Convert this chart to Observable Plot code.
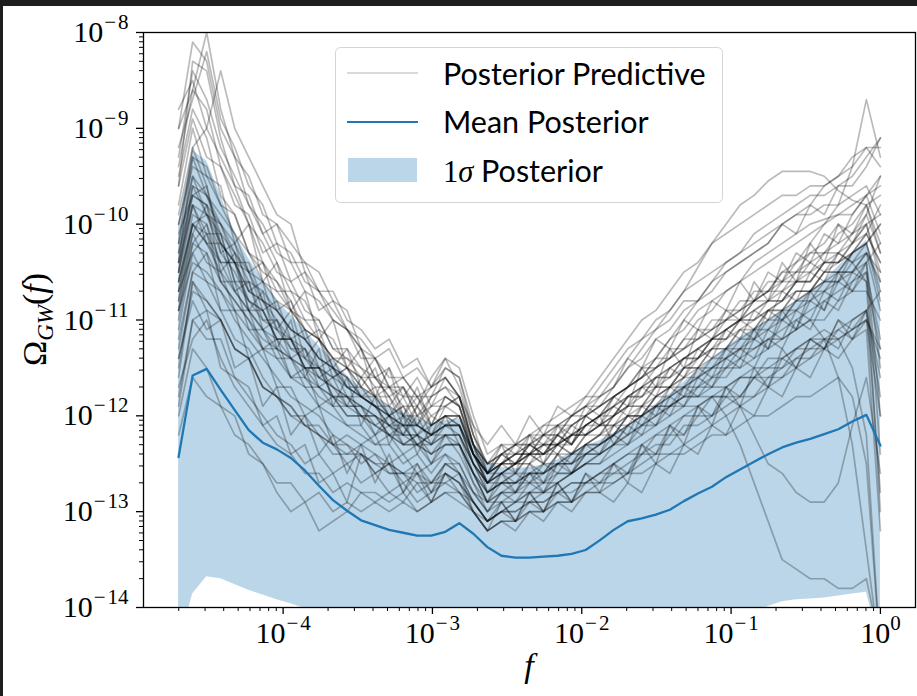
<!DOCTYPE html>
<html><head><meta charset="utf-8">
<script src="https://cdn.jsdelivr.net/npm/d3@7"></script>
<script src="https://cdn.jsdelivr.net/npm/@observablehq/plot@0.6"></script>
<style>
html,body{margin:0;padding:0;background:#fff;}
#wrap{position:relative;width:917px;height:696px;overflow:hidden;background:#fff;}
.bar{position:absolute;background:#1e1e1e;z-index:5;}
#legend{position:absolute;left:335px;top:47px;z-index:4;}
</style></head>
<body>
<div id="wrap">
  <div class="bar" style="left:0;top:0;width:917px;height:6px"></div>
  <div class="bar" style="left:0;top:0;width:3px;height:696px"></div>
  <svg id="legend" width="390" height="158" font-family="Lato, 'Open Sans', sans-serif">
    <rect x="0.5" y="0.5" width="387" height="155" rx="5" fill="#fff" fill-opacity="0.8" stroke="#d4d4d4"/>
    <line x1="12" x2="83" y1="26" y2="26" stroke="#000" stroke-opacity="0.15" stroke-width="2"/>
    <line x1="12" x2="83" y1="75" y2="75" stroke="#1f77b4" stroke-width="2.2"/>
    <rect x="13" y="111" width="69" height="24" fill="#1f77b4" fill-opacity="0.3"/>
    <text x="108" y="38" font-size="30.5" fill="#000">Posterior Predictive</text>
    <text x="108" y="86" font-size="30.5" fill="#000">Mean Posterior</text>
    <text x="108" y="135" font-size="30.5" fill="#000"><tspan font-family="'Liberation Serif', serif">1</tspan><tspan font-family="'Liberation Serif', serif" font-style="italic">σ</tspan> Posterior</text>
  </svg>
</div>
<script>
// frequency grid (log10 f)
const logF = [-4.700,-4.606,-4.512,-4.418,-4.324,-4.230,-4.136,-4.042,-3.948,-3.854,-3.760,-3.666,-3.572,-3.478,-3.384,-3.290,-3.196,-3.102,-3.008,-2.914,-2.820,-2.726,-2.632,-2.538,-2.444,-2.350,-2.256,-2.162,-2.068,-1.974,-1.880,-1.786,-1.692,-1.598,-1.504,-1.410,-1.316,-1.222,-1.128,-1.034,-0.940,-0.846,-0.752,-0.658,-0.564,-0.470,-0.376,-0.282,-0.188,-0.094,0];
// mean posterior (log10 Omega)
const meanLog = [-12.43,-11.58,-11.51,-11.73,-11.94,-12.15,-12.28,-12.35,-12.44,-12.57,-12.73,-12.88,-12.99,-13.09,-13.14,-13.19,-13.22,-13.25,-13.25,-13.21,-13.12,-13.23,-13.37,-13.46,-13.48,-13.48,-13.47,-13.46,-13.44,-13.40,-13.30,-13.19,-13.10,-13.07,-13.03,-12.98,-12.89,-12.81,-12.74,-12.64,-12.56,-12.48,-12.40,-12.33,-12.28,-12.24,-12.19,-12.14,-12.06,-11.99,-12.31];
// 1 sigma band
const bandHiLog = [-10.01,-9.23,-9.34,-9.70,-10.10,-10.36,-10.59,-10.80,-10.95,-11.11,-11.27,-11.42,-11.58,-11.71,-11.82,-11.90,-11.97,-12.03,-12.09,-12.05,-12.03,-12.31,-12.49,-12.54,-12.55,-12.54,-12.51,-12.46,-12.38,-12.32,-12.26,-12.18,-12.11,-12.00,-11.88,-11.77,-11.65,-11.53,-11.40,-11.29,-11.18,-11.09,-11.00,-10.90,-10.81,-10.71,-10.59,-10.44,-10.31,-10.17,-10.59];
const bandLoLog = [-14.4,-13.86,-13.68,-13.70,-13.76,-13.82,-13.87,-13.92,-13.96,-14.01,-14.06,-14.1,-14.2,-14.2,-14.2,-14.2,-14.2,-14.2,-14.2,-14.2,-14.2,-14.2,-14.2,-14.2,-14.2,-14.2,-14.2,-14.2,-14.2,-14.2,-14.2,-14.2,-14.2,-14.2,-14.2,-14.2,-14.2,-14.2,-14.2,-14.2,-14.2,-14.05,-13.99,-13.94,-13.92,-13.91,-13.90,-13.88,-13.86,-13.84,-14.4];
// posterior predictive draws (log10 Omega)
const s01 = [-9.6,-8.9,-9.3,-9.4,-9.8,-9.9,-10.3,-10.2,-10.6,-10.5,-10.9,-10.8,-11.1, -11.3,-11.6,-11.5,-11.8,-11.6,-11.9,-11.6,-11.8,-12.1,-12.3,-12.1,-12.3,-12.0,-12.2,-11.9,-12.0,-11.8,-11.8, -11.7,-11.4,-11.5,-11.2,-11.3,-11.0,-11.1,-10.8,-10.9,-10.6,-10.8,-10.5,-10.6,-10.3,-10.4,-10.1,-10.2,-9.9,-9.7, -10.1];
const s02 = [-11.3,-10.5,-10.3,-10.9,-10.9,-11.4,-11.3,-11.7,-11.7,-12.0,-11.9,-12.3,-12.2, -12.3,-12.2,-12.5,-12.4,-12.6,-12.5,-12.4,-12.6,-12.9,-13.1,-12.9,-13.1,-12.8,-13.0,-12.7,-12.9,-12.6,-12.7, -12.5,-12.6,-12.3,-12.4,-12.1,-12.2,-11.9,-12.0,-11.7,-11.8,-11.6,-11.7,-11.4,-11.5,-11.2,-11.3,-11.0,-11.1,-10.9, -11.6];
const s03 = [-10.2,-9.2,-9.6,-10.2,-10.4,-10.5,-10.9,-10.8,-11.2,-11.1,-11.5,-11.4,-11.7, -11.7,-11.9,-11.9,-12.2,-12.0,-12.3,-12.0,-12.0,-12.4,-12.7,-12.6,-12.6,-12.4,-12.5,-12.3,-12.4,-12.2,-12.1, -12.1,-11.9,-11.9,-11.7,-11.7,-11.5,-11.5,-11.3,-11.3,-11.1,-11.2,-10.9,-11.0,-10.8,-10.7,-10.6,-10.6,-10.3,-10.1, -10.4];
const s04 = [-11.0,-10.2,-10.0,-10.6,-10.6,-11.1,-11.1,-11.4,-11.4,-11.7,-11.7,-11.9,-11.9, -11.6,-11.8,-11.7,-12.0,-11.8,-12.1,-11.8,-11.9,-12.3,-12.5,-12.5,-12.3,-12.4,-12.2,-12.3,-12.1,-12.2,-12.0, -12.3,-12.1,-12.2,-11.9,-12.0,-11.7,-11.8,-11.6,-11.6,-11.4,-11.5,-11.2,-11.3,-11.0,-11.1,-10.8,-10.9,-10.6,-10.5, -11.2];
const s05 = [-9.0,-8.1,-8.3,-9.0,-9.3,-9.5,-9.9,-10.0,-10.2,-10.4,-10.5,-10.8,-10.9, -11.3,-11.6,-11.8,-12.1,-11.9,-12.2,-11.9,-11.8,-12.3,-12.6,-12.4,-12.5,-12.3,-12.4,-12.2,-12.3,-12.1,-12.0, -11.9,-11.8,-11.7,-11.6,-11.5,-11.4,-11.3,-11.2,-11.1,-11.0,-11.0,-10.9,-10.8,-10.6,-10.6,-10.4,-10.3,-10.2,-10.0, -9.9];
const s06 = [-9.4,-8.6,-8.0,-8.8,-9.3,-9.8,-10.1,-10.4,-10.7,-10.8,-11.1,-11.2,-11.5, -11.6,-11.8,-11.8,-12.0,-12.1,-12.2,-12.0,-12.1,-12.5,-12.8,-12.7,-12.6,-12.7,-12.5,-12.6,-12.4,-12.4,-12.3, -12.2,-12.0,-12.1,-11.9,-11.9,-11.7,-11.7,-11.5,-11.5,-11.3,-11.4,-11.1,-11.2,-10.9,-11.0,-10.7,-10.8,-10.5,-10.3, -10.9];
const s07 = [-11.8,-11.0,-11.2,-11.2,-11.6,-11.7,-12.1,-12.0,-12.4,-12.3,-12.7,-12.6,-12.9, -12.4,-12.6,-12.5,-12.8,-12.6,-12.9,-12.6,-12.7,-13.0,-13.2,-13.1,-13.2,-13.0,-13.1,-12.9,-13.0,-12.8,-12.8, -12.9,-12.7,-12.8,-12.5,-12.6,-12.3,-12.4,-12.1,-12.2,-11.9,-12.0,-11.7,-11.8,-11.5,-11.6,-11.3,-11.4,-11.2,-11.1, -13.2];
const s08 = [-10.5,-9.6,-9.9,-10.1,-10.6,-10.6,-11.0,-11.0,-11.3,-11.3,-11.6,-11.5,-11.8, -11.8,-11.8,-12.0,-11.9,-12.1,-11.8,-11.5,-11.6,-12.2,-12.6,-12.5,-12.5,-12.3,-12.4,-12.2,-12.3,-12.1,-12.0, -12.0,-11.8,-11.8,-11.6,-11.6,-11.4,-11.4,-11.2,-11.2,-11.0,-11.1,-10.9,-10.9,-10.7,-10.7,-10.5,-10.5,-10.3,-10.1, -9.8];
const s09 = [-10.0,-9.4,-9.5,-9.8,-10.1,-10.3,-10.6,-10.7,-10.9,-11.1,-11.2,-11.4,-11.5, -11.7,-11.8,-11.9,-12.0,-12.0,-12.1,-12.0,-12.0,-12.3,-12.5,-12.4,-12.4,-12.3,-12.3,-12.2,-12.1,-12.0,-11.9, -11.7,-11.5,-11.3,-11.1,-10.9,-10.7,-10.45,-10.2,-10.0,-9.8,-9.7,-9.55,-9.45,-9.45,-9.45,-9.5,-9.65,-9.75,-9.8, -10.2];
const s10 = [-10.3,-9.7,-9.8,-10.0,-10.3,-10.6,-10.7,-10.9,-11.1,-11.2,-11.4,-11.5,-11.7, -11.8,-11.9,-12.0,-12.1,-12.1,-12.2,-12.1,-12.1,-12.4,-12.6,-12.5,-12.5,-12.4,-12.4,-12.3,-12.2,-12.1,-12.0, -11.9,-11.7,-11.6,-11.4,-11.2,-11.0,-10.8,-10.6,-10.4,-10.3,-10.1,-10.0,-9.9,-9.8,-9.7,-9.7,-9.6,-9.6,-9.4, -9.1];
const s11 = [-10.8,-10.0,-10.2,-10.4,-10.7,-10.9,-11.1,-11.2,-11.4,-11.5,-11.7,-11.8,-11.9, -12.0,-12.1,-12.2,-12.3,-12.3,-12.4,-12.3,-12.3,-12.6,-12.8,-12.7,-12.7,-12.6,-12.6,-12.5,-12.4,-12.3,-12.2, -12.0,-11.8,-11.7,-11.5,-11.4,-11.2,-11.0,-10.9,-10.7,-10.6,-10.4,-10.3,-10.2,-10.1,-10.0,-9.95,-9.9,-9.8,-9.7, -9.6];
const s12 = [-10.9,-10.1,-10.4,-10.5,-10.9,-10.9,-11.3,-11.3,-11.6,-11.5,-11.9,-11.8,-12.0, -12.0,-12.2,-12.1,-12.3,-12.2,-12.4,-12.2,-12.3,-12.6,-12.9,-12.7,-12.8,-12.6,-12.7,-12.5,-12.5,-12.3,-12.3, -12.2,-12.0,-12.0,-11.8,-11.7,-11.6,-11.4,-11.3,-11.1,-11.0,-10.8,-10.7,-10.5,-10.4,-10.2,-10.0,-9.8,-9.4,-8.7, -9.3];
const s13 = [-10.7,-10.3,-10.1,-10.6,-10.8,-11.0,-11.3,-11.2,-11.6,-11.6,-11.8,-11.9,-12.1, -12.1,-12.3,-12.2,-12.4,-12.3,-12.5,-12.3,-12.3,-12.7,-12.9,-12.8,-12.8,-12.7,-12.7,-12.6,-12.6,-12.4,-12.4, -12.3,-12.2,-12.1,-12.0,-11.9,-11.8,-11.8,-11.8,-12.0,-12.3,-12.7,-13.1,-13.5,-13.6,-13.7,-13.7,-13.8,-13.8,-13.7, -14.4];
const s14 = [-11.4,-10.7,-10.8,-11.0,-11.3,-11.4,-11.7,-11.8,-12.0,-12.0,-12.2,-12.3,-12.4, -12.3,-12.4,-12.5,-12.6,-12.5,-12.7,-12.5,-12.6,-12.8,-13.0,-12.9,-12.9,-12.8,-12.8,-12.7,-12.6,-12.5,-12.5, -12.4,-12.3,-12.2,-12.1,-12.0,-11.9,-11.9,-11.8,-11.8,-11.9,-12.2,-12.5,-12.6,-12.8,-12.9,-12.9,-12.7,-12.1,-11.6, -12.6];
const s15 = [-12.0,-11.3,-11.5,-11.9,-12.0,-12.4,-12.5,-12.8,-13.0,-12.9,-13.2,-13.1,-13.0, -12.8,-12.9,-12.8,-12.9,-12.7,-12.9,-12.6,-12.7,-12.9,-13.1,-13.0,-13.0,-12.9,-12.9,-12.8,-12.8,-12.7,-12.6, -12.6,-12.5,-12.4,-12.3,-12.3,-12.1,-12.1,-12.0,-11.9,-11.8,-11.8,-11.6,-11.6,-11.4,-11.4,-11.2,-11.3,-11.0,-10.9, -11.8];
const s16 = [-8.8,-8.5,-9.0,-9.3,-9.6,-9.7,-10.1,-10.0,-10.4,-10.4,-10.7,-10.7,-11.0, -11.1,-11.3,-11.2,-11.5,-11.4,-11.7,-11.6,-11.8,-12.2,-12.5,-12.4,-12.3,-12.3,-12.2,-12.2,-12.0,-12.0,-11.9, -11.8,-11.7,-11.5,-11.5,-11.3,-11.3,-11.1,-11.1,-10.9,-10.9,-10.7,-10.7,-10.5,-10.5,-10.3,-10.3,-10.1,-10.0,-9.8, -10.3];
const s17 = [-10.4,-9.8,-10.2,-10.2,-10.7,-10.6,-11.1,-11.0,-11.4,-11.3,-11.7,-11.6,-11.9, -11.9,-12.2,-12.0,-12.3,-12.2,-12.5,-12.2,-12.4,-12.7,-13.0,-12.8,-12.8,-12.6,-12.8,-12.5,-12.6,-12.4,-12.4, -12.2,-12.3,-12.0,-12.1,-11.8,-11.9,-11.6,-11.7,-11.4,-11.5,-11.2,-11.3,-11.0,-11.1,-10.8,-10.9,-10.6,-10.7,-10.5, -12.4];
const s18 = [-10.6,-10.0,-10.1,-10.4,-10.4,-10.8,-10.9,-11.2,-11.2,-11.5,-11.5,-11.8,-11.8, -12.0,-12.0,-12.2,-12.1,-12.3,-12.2,-12.1,-12.2,-12.5,-12.7,-12.6,-12.5,-12.4,-12.3,-12.3,-12.1,-12.0,-11.8, -11.6,-11.4,-11.2,-11.1,-11.0,-10.8,-10.8,-10.6,-10.5,-10.4,-10.3,-10.2,-10.0,-10.1,-9.8,-9.9,-9.6,-9.5,-9.3, -9.1];
const s19 = [-11.6,-10.6,-10.9,-11.0,-11.3,-11.4,-11.7,-11.8,-11.9,-12.1,-12.1,-12.3,-12.3, -12.5,-12.4,-12.6,-12.6,-12.8,-12.7,-12.7,-12.6,-12.9,-13.1,-13.0,-13.0,-12.9,-12.9,-12.8,-12.7,-12.7,-12.6, -12.5,-12.4,-12.4,-12.2,-12.2,-12.0,-12.0,-11.8,-11.8,-11.6,-11.6,-11.4,-11.4,-11.3,-11.2,-11.1,-11.2,-11.5,-12.2, -14.5];
const s20 = [-10.3,-9.5,-9.7,-10.0,-10.2,-10.5,-10.6,-10.8,-10.9,-11.1,-11.2,-11.4,-11.4, -11.6,-11.6,-11.8,-11.7,-11.9,-11.6,-11.4,-11.7,-12.2,-12.5,-12.4,-12.3,-12.3,-12.1,-12.1,-12.0,-11.9,-11.9, -11.8,-11.7,-11.6,-11.5,-11.4,-11.3,-11.2,-11.1,-11.0,-10.9,-10.8,-10.7,-10.7,-10.5,-10.5,-10.3,-10.3,-10.1,-9.9, -9.5];
const s21 = [-9.6,-8.3,-8.4,-9.1,-9.6,-10.0,-10.4,-10.6,-10.8,-11.1,-11.2,-11.5,-11.6, -11.8,-11.9,-12.1,-12.1,-12.3,-12.2,-12.2,-12.2,-12.6,-12.8,-12.7,-12.7,-12.6,-12.6,-12.4,-12.5,-12.3,-12.3, -12.1,-12.1,-11.9,-11.9,-11.7,-11.7,-11.5,-11.5,-11.3,-11.3,-11.1,-11.1,-10.9,-10.9,-10.7,-10.7,-10.5,-10.5,-10.3, -10.6];
const s22 = [-11.2,-10.5,-10.6,-10.9,-11.2,-11.3,-11.6,-11.8,-11.9,-12.1,-12.2,-12.3,-12.5, -12.4,-12.6,-12.5,-12.7,-12.6,-12.8,-12.7,-12.8,-12.9,-13.1,-13.0,-13.1,-12.9,-13.0,-12.8,-12.9,-12.7,-12.7, -12.6,-12.6,-12.4,-12.4,-12.2,-12.2,-12.0,-12.0,-11.8,-11.8,-11.6,-11.6,-11.5,-11.4,-11.3,-11.3,-11.1,-11.2,-11.0, -11.4];
const s23 = [-10.4,-9.3,-9.4,-9.8,-9.9,-10.3,-10.4,-10.7,-10.7,-11.0,-11.0,-11.3,-11.3, -11.5,-11.6,-11.7,-11.8,-11.8,-12.0,-11.9,-11.8,-12.3,-12.7,-12.5,-12.5,-12.4,-12.4,-12.3,-12.3,-12.1,-12.1, -12.0,-11.9,-11.8,-11.7,-11.6,-11.5,-11.4,-11.3,-11.2,-11.1,-11.0,-10.9,-10.8,-10.7,-10.7,-10.5,-10.4,-10.3,-10.2, -10.0];
const s24 = [-10.7,-9.9,-10.0,-10.4,-10.4,-10.9,-10.9,-11.2,-11.2,-11.5,-11.5,-11.8,-11.8, -12.0,-12.0,-12.2,-12.2,-12.3,-12.3,-12.1,-12.1,-12.5,-12.7,-12.7,-12.6,-12.6,-12.5,-12.5,-12.4,-12.3,-12.2, -12.1,-12.0,-11.9,-11.8,-11.7,-11.6,-11.5,-11.4,-11.3,-11.2,-11.1,-11.0,-10.9,-10.8,-10.7,-10.6,-10.5,-10.5,-10.6, -13.0];
const s25 = [-10.1,-9.7,-9.6,-10.3,-10.2,-10.7,-10.6,-11.1,-10.9,-11.4,-11.2,-11.6,-11.5, -11.8,-11.7,-12.0,-11.8,-12.1,-11.9,-11.8,-11.9,-12.4,-12.6,-12.4,-12.5,-12.3,-12.4,-12.2,-12.3,-12.0,-12.1, -11.9,-12.0,-11.7,-11.8,-11.5,-11.6,-11.3,-11.4,-11.1,-11.2,-10.9,-11.0,-10.7,-10.8,-10.5,-10.6,-10.3,-10.4,-10.2, -10.7];
const s26 = [-11.5,-10.6,-10.8,-11.0,-11.3,-11.4,-11.7,-11.8,-12.0,-12.1,-12.2,-12.4,-12.4, -12.4,-12.5,-12.5,-12.6,-12.6,-12.7,-12.5,-12.5,-12.8,-12.9,-12.9,-12.8,-12.8,-12.7,-12.7,-12.6,-12.5,-12.5, -12.3,-12.3,-12.1,-12.1,-11.9,-11.9,-11.7,-11.7,-11.5,-11.5,-11.4,-11.3,-11.2,-11.1,-11.0,-11.0,-10.8,-10.7,-10.7, -11.0];
const s27 = [-9.0,-8.6,-8.8,-9.4,-9.7,-10.0,-10.2,-10.5,-10.6,-10.9,-11.0,-11.3,-11.4, -11.5,-11.7,-11.7,-11.9,-11.9,-12.1,-12.0,-12.0,-12.4,-12.7,-12.6,-12.5,-12.5,-12.4,-12.4,-12.2,-12.2,-12.1, -12.0,-11.8,-11.8,-11.6,-11.6,-11.4,-11.4,-11.2,-11.2,-11.0,-11.0,-10.8,-10.8,-10.6,-10.6,-10.4,-10.4,-10.2,-10.0, -10.5];
const s28 = [-10.9,-10.2,-10.3,-10.6,-10.8,-11.0,-11.2,-11.3,-11.4,-11.5,-11.5,-11.6,-11.5, -11.6,-11.4,-11.7,-11.6,-11.8,-11.7,-11.5,-11.6,-12.1,-12.6,-12.5,-12.4,-12.4,-12.3,-12.3,-12.2,-12.2,-12.1, -12.1,-12.0,-12.0,-11.9,-11.9,-11.8,-11.8,-11.7,-11.7,-11.6,-11.6,-11.5,-11.5,-11.3,-11.3,-11.2,-11.2,-11.1,-11.0, -12.0];
const s29 = [-12.2,-11.6,-11.8,-11.9,-12.2,-12.3,-12.5,-12.7,-12.7,-12.9,-12.8,-13.0,-12.9, -13.0,-12.9,-13.0,-12.9,-13.0,-12.9,-12.8,-12.9,-13.0,-13.2,-13.1,-13.1,-13.0,-13.0,-12.9,-12.9,-12.8,-12.8, -12.7,-12.6,-12.6,-12.5,-12.4,-12.4,-12.3,-12.2,-12.2,-12.1,-12.0,-12.0,-11.9,-11.8,-11.8,-11.7,-11.6,-11.8,-12.5, -14.5];
const s30 = [-10.5,-9.8,-9.9,-10.2,-10.4,-10.7,-10.8,-11.0,-11.2,-11.3,-11.5,-11.6,-11.7, -11.8,-11.9,-12.0,-12.1,-12.1,-12.2,-12.1,-12.1,-12.4,-12.6,-12.5,-12.4,-12.3,-12.2,-12.1,-12.0,-11.9,-11.7, -11.5,-11.3,-11.2,-11.0,-10.9,-10.7,-10.6,-10.5,-10.4,-10.3,-10.2,-10.1,-10.0,-9.9,-9.9,-9.8,-9.8,-9.7,-9.6, -9.9];
const s31 = [-10.6,-10.0,-9.9,-10.3,-10.5,-10.8,-11.0,-11.1,-11.3,-11.4,-11.6,-11.7,-11.8, -11.9,-12.0,-12.1,-12.2,-12.2,-12.3,-12.2,-12.2,-12.5,-12.8,-12.7,-12.7,-12.6,-12.6,-12.5,-12.5,-12.4,-12.3, -12.2,-12.1,-12.0,-11.9,-11.8,-11.7,-11.6,-11.5,-11.4,-11.3,-11.3,-11.2,-11.1,-11.0,-10.9,-10.8,-10.7,-10.6,-10.4, -12.0];
const s32 = [-9.9,-9.2,-9.0,-8.4,-9.0,-9.3,-9.6,-9.9,-10.0,-10.5,-10.7,-10.9,-11.1, -11.3,-11.4,-11.6,-11.6,-11.8,-11.8,-11.7,-11.9,-12.3,-12.6,-12.5,-12.4,-12.4,-12.3,-12.3,-12.2,-12.1,-12.0, -11.9,-11.8,-11.7,-11.6,-11.5,-11.4,-11.3,-11.2,-11.1,-11.0,-10.9,-10.8,-10.8,-10.6,-10.6,-10.4,-10.4,-10.2,-10.1, -10.4];
const s33 = [-9.8,-9.0,-9.5,-9.6,-10.2,-10.0,-10.6,-10.4,-10.9,-10.7,-11.2,-11.0,-11.5, -11.3,-11.8,-11.5,-12.0,-11.7,-12.1,-11.8,-11.9,-12.4,-12.6,-12.3,-12.6,-12.2,-12.5,-12.1,-12.3,-12.0,-12.1, -11.8,-11.9,-11.5,-11.7,-11.3,-11.5,-11.1,-11.2,-10.9,-11.0,-10.6,-10.8,-10.4,-10.6,-10.2,-10.4,-10.0,-10.2,-9.9, -10.3];
const s34 = [-10.8,-10.1,-9.8,-10.5,-10.3,-10.9,-10.7,-11.3,-11.0,-11.6,-11.3,-11.9,-11.6, -12.1,-11.8,-12.3,-12.0,-12.4,-12.1,-12.0,-12.3,-12.6,-12.9,-12.6,-12.8,-12.5,-12.7,-12.4,-12.6,-12.3,-12.4, -12.1,-12.2,-11.9,-12.0,-11.7,-11.8,-11.5,-11.6,-11.3,-11.4,-11.1,-11.3,-10.9,-11.1,-10.7,-10.9,-10.5,-10.7,-10.4, -11.5];
const s35 = [-9.2,-8.7,-8.2,-8.9,-9.2,-9.6,-9.8,-10.2,-10.3,-10.6,-10.7,-11.0,-11.1, -11.4,-11.4,-11.7,-11.7,-12.0,-11.9,-11.9,-12.0,-12.4,-12.7,-12.5,-12.6,-12.4,-12.5,-12.3,-12.4,-12.2,-12.2, -12.0,-11.9,-11.9,-11.7,-11.7,-11.5,-11.5,-11.3,-11.3,-11.1,-11.1,-10.9,-10.9,-10.7,-10.7,-10.5,-10.5,-10.3,-10.2, -10.0];
const s36 = [-11.4,-10.8,-11.1,-11.0,-11.5,-11.4,-11.9,-11.7,-12.2,-12.0,-12.4,-12.2,-12.6, -12.3,-12.7,-12.4,-12.8,-12.5,-12.8,-12.5,-12.6,-13.0,-13.2,-12.9,-13.1,-12.8,-13.0,-12.7,-12.9,-12.6,-12.8, -12.5,-12.7,-12.3,-12.5,-12.1,-12.3,-11.9,-12.1,-11.7,-11.9,-11.5,-11.7,-11.3,-11.5,-11.2,-11.3,-11.0,-11.2,-10.9, -10.7];
const s37 = [-10.2,-9.5,-9.9,-10.0,-10.4,-10.4,-10.8,-10.9,-11.1,-11.2,-11.4,-11.5,-11.7, -11.8,-11.9,-12.1,-12.0,-12.2,-12.1,-12.0,-12.1,-12.5,-12.7,-12.5,-12.4,-12.4,-12.2,-12.2,-12.0,-11.9,-11.8, -11.7,-11.5,-11.4,-11.2,-11.1,-10.9,-10.8,-10.7,-10.5,-10.4,-10.3,-10.2,-10.0,-9.9,-9.8,-9.6,-9.5,-9.3,-9.2, -9.4];
const s38 = [-9.5,-8.8,-9.1,-9.7,-9.9,-10.3,-10.5,-10.6,-10.9,-11.0,-11.2,-11.4,-11.5, -11.7,-11.8,-12.0,-11.9,-12.2,-12.0,-12.1,-12.0,-12.4,-12.6,-12.6,-12.5,-12.5,-12.3,-12.4,-12.2,-12.2,-12.1, -12.0,-11.9,-11.7,-11.7,-11.5,-11.4,-11.3,-11.2,-11.0,-11.0,-10.8,-10.8,-10.6,-10.6,-10.4,-10.5,-10.3,-10.4,-10.6, -11.3];
const s39 = [-11.9,-11.0,-10.9,-11.5,-11.6,-11.8,-12.0,-12.2,-12.3,-12.5,-12.4,-12.6,-12.5, -12.7,-12.6,-12.8,-12.7,-12.9,-12.8,-12.6,-12.8,-13.0,-13.1,-13.0,-12.9,-12.9,-12.8,-12.8,-12.7,-12.7,-12.6, -12.5,-12.4,-12.3,-12.2,-12.1,-12.0,-11.9,-11.8,-11.7,-11.6,-11.5,-11.5,-11.4,-11.3,-11.2,-11.2,-11.1,-11.0,-10.9, -12.8];
const s40 = [-10.6,-9.8,-10.1,-10.1,-10.6,-10.8,-10.9,-11.2,-11.2,-11.5,-11.6,-11.7,-11.9, -11.9,-12.1,-12.0,-12.2,-11.9,-11.7,-11.6,-11.8,-12.3,-12.8,-12.6,-12.7,-12.5,-12.6,-12.4,-12.4,-12.3,-12.2, -12.2,-12.0,-12.0,-11.8,-11.8,-11.6,-11.6,-11.4,-11.4,-11.2,-11.2,-11.0,-11.0,-10.8,-10.8,-10.6,-10.6,-10.4,-10.3, -10.5];
const s41 = [-10.4,-9.6,-9.7,-10.1,-10.3,-10.5,-10.8,-10.9,-11.1,-11.2,-11.4,-11.5,-11.6, -11.8,-11.9,-12.0,-12.1,-12.1,-12.2,-12.1,-12.1,-12.4,-12.6,-12.4,-12.3,-12.2,-12.1,-12.0,-11.9,-11.8,-11.6, -11.4,-11.2,-11.0,-10.9,-10.7,-10.5,-10.4,-10.2,-10.1,-10.0,-9.9,-9.8,-9.7,-9.7,-9.6,-9.6,-9.5,-9.4,-9.2, -9.2];
const s42 = [-10.9,-10.4,-10.5,-10.7,-10.9,-11.1,-11.3,-11.4,-11.6,-11.7,-11.9,-12.0,-12.1, -12.2,-12.3,-12.3,-12.5,-12.4,-12.6,-12.4,-12.5,-12.8,-13.0,-12.8,-12.9,-12.7,-12.8,-12.6,-12.6,-12.5,-12.4, -12.3,-12.2,-12.1,-12.0,-11.9,-11.8,-11.7,-11.6,-11.5,-11.4,-11.3,-11.2,-11.2,-11.1,-11.0,-11.2,-11.6,-12.3,-13.4, -14.5];
const s43 = [-10.0,-9.3,-9.7,-9.9,-10.1,-10.5,-10.4,-10.9,-10.8,-11.2,-11.1,-11.5,-11.3, -11.7,-11.5,-11.9,-11.7,-12.0,-11.8,-11.7,-11.8,-12.3,-12.5,-12.3,-12.4,-12.2,-12.3,-12.1,-12.2,-11.9,-12.0, -11.8,-11.7,-11.6,-11.4,-11.4,-11.2,-11.2,-11.0,-11.0,-10.8,-10.8,-10.6,-10.6,-10.4,-10.3,-10.2,-10.0,-10.1,-9.8, -9.7];
const s44 = [-11.1,-10.3,-10.6,-10.7,-11.0,-11.2,-11.4,-11.6,-11.8,-11.9,-12.0,-12.2,-12.3, -12.4,-12.5,-12.6,-12.6,-12.7,-12.7,-12.6,-12.7,-12.9,-13.1,-13.0,-12.9,-12.8,-12.8,-12.7,-12.6,-12.5,-12.4, -12.3,-12.1,-12.0,-11.8,-11.7,-11.5,-11.4,-11.2,-11.1,-11.0,-10.9,-10.8,-10.7,-10.6,-10.5,-10.4,-10.4,-10.3,-10.2, -10.8];
const s45 = [-10.7,-10.0,-10.2,-10.5,-10.7,-10.9,-11.1,-11.3,-11.4,-11.6,-11.7,-11.8,-12.0, -12.0,-12.1,-12.2,-12.3,-12.3,-12.4,-12.3,-12.3,-12.6,-12.9,-12.8,-12.7,-12.7,-12.6,-12.5,-12.5,-12.4,-12.3, -12.2,-12.1,-12.0,-11.9,-11.8,-11.7,-11.6,-11.5,-11.4,-11.3,-11.2,-11.1,-11.0,-10.9,-10.8,-10.7,-10.6,-10.5,-10.4, -10.2];
const s46 = [-9.3,-8.4,-8.7,-9.2,-9.5,-9.8,-10.0,-10.3,-10.4,-10.7,-10.8,-11.0,-11.1, -11.2,-11.4,-11.3,-11.6,-11.5,-11.7,-11.4,-11.5,-12.0,-12.4,-12.3,-12.3,-12.2,-12.2,-12.1,-12.1,-12.0,-11.9, -11.8,-11.7,-11.6,-11.5,-11.4,-11.3,-11.2,-11.1,-11.0,-10.9,-10.8,-10.7,-10.6,-10.5,-10.4,-10.3,-10.2,-10.1,-10.0, -10.6];
const s47 = [-11.7,-11.2,-11.0,-11.4,-11.7,-11.9,-12.1,-12.3,-12.4,-12.6,-12.6,-12.8,-12.7, -12.8,-12.8,-12.9,-12.8,-13.0,-12.9,-12.8,-12.8,-13.0,-13.2,-13.1,-13.1,-13.0,-13.0,-12.9,-12.9,-12.8,-12.7, -12.7,-12.6,-12.5,-12.4,-12.4,-12.3,-12.2,-12.1,-12.0,-11.9,-11.8,-11.7,-11.6,-11.5,-11.4,-11.3,-11.2,-11.1,-11.0, -11.3];
const s48 = [-10.5,-9.7,-9.8,-10.2,-10.4,-10.7,-10.8,-11.1,-11.2,-11.4,-11.5,-11.7,-11.8, -11.9,-12.0,-12.1,-12.2,-12.2,-12.3,-12.2,-12.2,-12.5,-12.7,-12.6,-12.5,-12.4,-12.4,-12.3,-12.2,-12.1,-12.0, -11.8,-11.7,-11.5,-11.4,-11.2,-11.1,-10.9,-10.8,-10.7,-10.6,-10.5,-10.4,-10.3,-10.2,-10.1,-10.0,-9.9,-9.9,-9.7, -9.5];
const samples = [s01,s02,s03,s04,s05,s06,s07,s08,s09,s10,s11,s12,s13,s14,s15,s16,s17,s18,s19,s20,s21,s22,s23,s24,s25,s26,s27,s28,s29,s30,s31,s32,s33,s34,s35,s36,s37,s38,s39,s40,s41,s42,s43,s44,s45,s46,s47,s48];
// axis ticks
const xMajor = [1e-4, 1e-3, 1e-2, 1e-1, 1];
const yMajor = [1e-14, 1e-13, 1e-12, 1e-11, 1e-10, 1e-9, 1e-8];
const xDomain = [Math.pow(10, -4.935), Math.pow(10, 0.235)];
const yDomain = [1e-14, 1e-8];

samples.forEach((s, k) => { if (s.length !== logF.length) throw new Error("sample " + (k + 1) + " has " + s.length); });

const xMinor = [], yMinor = [];
for (let e = -5; e <= 0; e++) for (let m = 2; m <= 9; m++) { const v = m * Math.pow(10, e); if (v > xDomain[0] && v < xDomain[1]) xMinor.push(v); }
for (let e = -14; e <= -9; e++) for (let m = 2; m <= 9; m++) yMinor.push(m * Math.pow(10, e));

const bandRows = logF.map((lf, i) => ({f: 10 ** lf, lo: 10 ** bandLoLog[i], hi: 10 ** bandHiLog[i]}));
const meanRows = logF.map((lf, i) => ({f: 10 ** lf, v: 10 ** meanLog[i]}));
const sampleRows = samples.flatMap((s, k) => s.map((v, i) => ({id: k, f: 10 ** logF[i], v: 10 ** v})));

const expFmt = d => String(Math.round(Math.log10(d)));
const serif = "'Liberation Serif', 'DejaVu Serif', serif";

const chart = Plot.plot({
  width: 917, height: 696,
  marginLeft: 143, marginRight: 2, marginTop: 32, marginBottom: 89,
  x: {type: "log", domain: xDomain, label: null},
  y: {type: "log", domain: yDomain, label: null},
  style: {fontFamily: serif, fontSize: "30px", color: "#000", background: "transparent"},
  marks: [
    Plot.areaY(bandRows, {x: "f", y1: "lo", y2: "hi", fill: "#1f77b4", fillOpacity: 0.3, clip: true}),
    Plot.line(sampleRows, {x: "f", y: "v", z: "id", stroke: "#000", strokeOpacity: 0.27, strokeWidth: 1.7, clip: true}),
    Plot.line(meanRows, {x: "f", y: "v", stroke: "#1f77b4", strokeWidth: 2.3, clip: true}),
    Plot.frame({stroke: "#000", strokeWidth: 1.3}),
    Plot.axisX(xMinor, {tickSize: 4, tickFormat: () => "", strokeWidth: 1, label: null}),
    Plot.axisX(xMajor, {tickSize: 7, tickPadding: 7, tickFormat: expFmt, strokeWidth: 1.3, label: null, fontSize: 30}),
    Plot.axisY(yMinor, {tickSize: 4, tickFormat: () => "", strokeWidth: 1, label: null}),
    Plot.axisY(yMajor, {tickSize: 7, tickPadding: 8, tickFormat: expFmt, strokeWidth: 1.3, label: null, fontSize: 30})
  ]
});
chart.style.position = "absolute";
chart.style.left = "0px";
chart.style.top = "0px";
document.getElementById("wrap").insertBefore(chart, document.getElementById("legend"));

// superscript exponents for tick labels
d3.select(chart).selectAll('g[aria-label="x-axis tick label"] text, g[aria-label="y-axis tick label"] text').each(function () {
  const t = this.textContent;
  if (!t) { this.remove(); return; }
  const sel = d3.select(this);
  sel.text(null);
  sel.append("tspan").text("10");
  const neg = t.startsWith("-");
  const sup = sel.append("tspan").attr("dy", "-13").attr("font-size", "21px");
  if (neg) {
    sup.append("tspan").attr("dx", "1").text("\u2212");
    sup.append("tspan").attr("dx", "2").text(t.slice(1));
  } else {
    sup.text(t);
  }
});

// axis labels
const svg = d3.select(chart);
const yl = svg.append("text").attr("transform", "translate(46,319.5) rotate(-90)")
  .attr("text-anchor", "middle").attr("font-family", serif).attr("font-size", 34).attr("fill", "#000");
yl.append("tspan").text("Ω");
yl.append("tspan").attr("font-style", "italic").attr("font-size", 23).attr("dy", 7).text("GW");
yl.append("tspan").attr("dy", -7).text("(");
yl.append("tspan").attr("font-style", "italic").text("f");
yl.append("tspan").text(")");
svg.append("text").attr("x", 529).attr("y", 677).attr("text-anchor", "middle")
  .attr("font-family", serif).attr("font-size", 34).attr("font-style", "italic").attr("fill", "#000").text("f");
</script>
</body></html>
